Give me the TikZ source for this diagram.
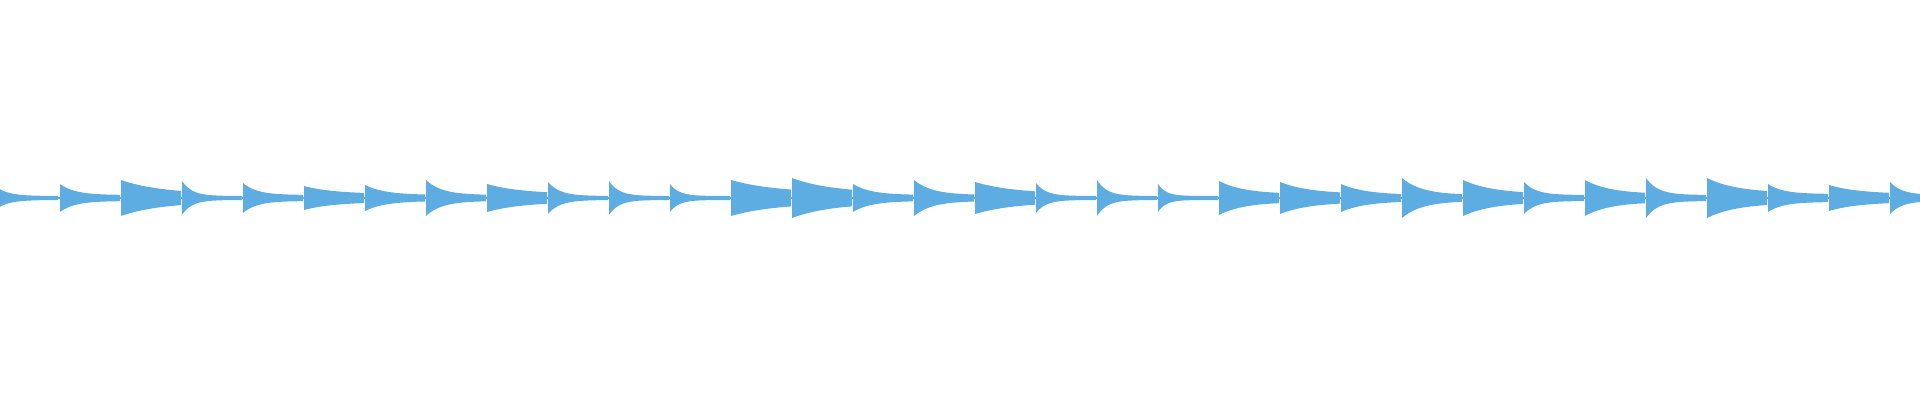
\documentclass[tikz,border=0pt]{standalone}
\definecolor{wave}{HTML}{5DADE2}
\tikzset{burst/.style={fill=wave,draw=none}}
\begin{document}
\begin{tikzpicture}[x=0.05cm,y=0.05cm]
        \useasboundingbox (0,0) rectangle (1920,400);
        % baseline
        \fill[wave] (0,201.2) rectangle (1920,202.8);
        % bursts: onset / peak / decay / tail
        \foreach \s/\a/\t/\b [count=\i] in {
            -2/10/12/2, 60/14/15/3, 121/18/40/4, 182/17/10/2, 243/15/14/3,
            304/12/30/4, 365/13/20/3, 426/18/16/3, 487/14/35/4, 548/16/12/2,
            609/17/10/2, 670/14/9/2, 731/18/45/5, 792/20/40/5, 853/14/18/3,
            914/18/18/3, 975/16/40/4, 1036/15/10/2, 1097/18/10/2, 1158/14/8/2,
            1219/17/25/4, 1280/16/30/4, 1341/14/25/3, 1402/20/20/3, 1463/18/30/4,
            1524/16/12/3, 1585/18/25/4, 1646/20/12/3, 1707/20/30/5, 1768/14/15/4,
            1829/13/30/4, 1890/16/12/3} {
            \fill[burst] plot[domain=0:60,samples=40]
                ({\s+\x},{202+\b+(\a-\b)*exp(-\x/\t)})
              -- plot[domain=60:0,samples=40]
                ({\s+\x},{202-\b-(\a-\b)*exp(-\x/\t)}) -- cycle;
        }
\end{tikzpicture}
\end{document}
